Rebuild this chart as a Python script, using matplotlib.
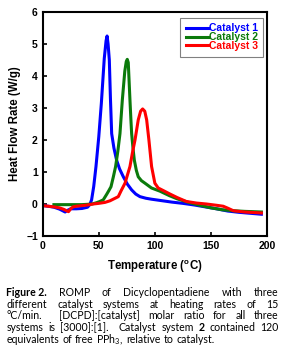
import matplotlib
matplotlib.use('Agg')
import matplotlib.pyplot as plt

plt.rcParams['font.family'] = 'Liberation Sans'
plt.rcParams['mathtext.fontset'] = 'custom'
plt.rcParams['mathtext.rm'] = 'Lato'
plt.rcParams['mathtext.bf'] = 'Liberation Sans:bold'

# Catalyst 1 (blue)
t1 = [0, 5, 10, 15, 20, 22, 25, 30, 35, 40, 42, 43.6, 45.5, 47.5, 50, 52.3, 54.9, 56.5,
      57.4, 58.3, 59.4, 60.4, 61.5, 63.5, 65.9, 68.5, 71.9, 75.5, 79.3, 83, 86.7, 92, 97,
      105, 115, 125, 135, 145, 155, 165, 175, 185, 195]
v1 = [-0.05, -0.07, -0.1, -0.16, -0.25, -0.2, -0.15, -0.15, -0.14, -0.1, -0.02, 0.13, 0.55,
      1.17, 2.1, 3.15, 4.55, 5.1, 5.25, 5.0, 4.5, 3.3, 2.2, 1.75, 1.37, 1.1, 0.85, 0.62, 0.44,
      0.31, 0.23, 0.18, 0.15, 0.11, 0.06, 0.02, -0.03, -0.09, -0.15, -0.22, -0.26, -0.29, -0.32]

# Catalyst 2 (green)
t2 = [10, 15, 20, 25, 30, 35, 40, 44, 48, 51, 54, 57, 59, 60.9, 63, 65, 67, 68.9, 71, 73.2,
      74.5, 75.4, 76.3, 77.8, 78.7, 79.3, 80.5, 81.7, 83.5, 85.2, 88, 91.2, 97, 104.6, 113,
      120, 130, 140, 150, 160, 170, 180, 195]
v2 = [-0.02, -0.02, -0.02, -0.02, -0.02, -0.02, -0.01, 0.0, 0.04, 0.08, 0.13, 0.3, 0.42, 0.54,
      0.85, 1.17, 1.65, 2.2, 3.25, 4.15, 4.45, 4.52, 4.42, 3.25, 2.6, 2.2, 1.75, 1.37, 1.05,
      0.85, 0.73, 0.65, 0.5, 0.4, 0.26, 0.16, 0.05, -0.04, -0.12, -0.18, -0.21, -0.23, -0.25]

# Catalyst 3 (red)
t3 = [0, 5, 10, 15, 19, 23, 25, 27, 30, 35, 40, 45, 50, 55.5, 60, 64, 67.4, 70, 73.4, 75.5,
      77.8, 80, 82.3, 85.2, 87.3, 89.1, 91, 92.7, 94.7, 97.1, 100, 103, 107.5, 113, 120, 128,
      137, 146, 155, 161, 165, 170, 180, 195]
v3 = [-0.05, -0.07, -0.09, -0.12, -0.17, -0.24, -0.15, -0.09, -0.07, -0.05, -0.03, 0.0, 0.02,
      0.05, 0.1, 0.17, 0.23, 0.42, 0.65, 0.9, 1.17, 1.6, 2.0, 2.63, 2.9, 2.97, 2.9, 2.63, 2.0,
      1.17, 0.65, 0.5, 0.42, 0.32, 0.2, 0.08, 0.03, 0.0, -0.04, -0.07, -0.13, -0.21, -0.25, -0.28]

labels = ['Catalyst 1', 'Catalyst 2', 'Catalyst 3']
colors = ['#0000ff', '#0b7a0b', '#ff0000']

caption = [
    [('Figure 2.', True), ('ROMP', False), ('of', False), ('Dicyclopentadiene', False),
     ('with', False), ('three', False)],
    [('different', False), ('catalyst', False), ('systems', False), ('at', False),
     ('heating', False), ('rates', False), ('of', False), ('15', False)],
    [('°C/min.', False), ('', False), ('[DCPD]:[catalyst]', False), ('molar', False),
     ('ratio', False), ('for', False), ('all', False), ('three', False)],
    [('systems', False), ('is', False), ('[3000]:[1].', False), ('', False), ('Catalyst', False),
     ('system', False), ('2', True), ('contained', False), ('120', False)],
    [('equivalents', False), ('of', False), ('free', False), ('PPh$_3$,', False),
     ('relative', False), ('to', False), ('catalyst.', False)],
]

W, H = 286, 354
fig = plt.figure(figsize=(W / 100, H / 100), dpi=100)
ax = fig.add_axes([42.7 / W, 1 - 236 / H, 224.3 / W, 224 / H])

for t, v, lab, c in zip([t1, t2, t3], [v1, v2, v3], labels, colors):
    ax.plot(t, v, color=c, lw=2.2, label=lab, solid_joinstyle='round')

ax.set_xlim(0, 200)
ax.set_ylim(-1, 6)
ax.set_xticks([0, 50, 100, 150, 200])
ax.set_yticks([-1, 0, 1, 2, 3, 4, 5, 6])
ax.tick_params(direction='in', length=3, width=1.2, labelsize=7.5, pad=3.5)
for lbl in ax.get_xticklabels() + ax.get_yticklabels():
    lbl.set_fontweight('bold')
for s in ax.spines.values():
    s.set_linewidth(1.5)

ax.set_xlabel(r'Temperature ($^{\mathbf{o}}$C)', fontsize=8.3, fontweight='bold', labelpad=5)
ax.set_ylabel('Heat Flow Rate (W/g)', fontsize=8.3, fontweight='bold', labelpad=4)

leg = ax.legend(loc='upper right', bbox_to_anchor=(0.9835, 0.9746), borderaxespad=0,
                fancybox=False, edgecolor='#808080', framealpha=1,
                prop={'weight': 'bold', 'size': 7.5}, labelcolor='linecolor',
                handlelength=2.2, handletextpad=0.0, labelspacing=-0.12, borderpad=0.55)
leg.get_frame().set_linewidth(0.8)

# justified caption
r = fig.canvas.get_renderer()
x0, x1 = 6.5, 278.5
y_lines = [292.3, 304, 315.7, 327.3, 339.3]
for i, (line, yc) in enumerate(zip(caption, y_lines)):
    objs = []
    for word, bold in line:
        tx = fig.text(0, 1 - yc / H, word, fontsize=7.6, family='Lato',
                      fontweight='bold' if bold else 'normal', va='center', ha='left')
        objs.append(tx)
    widths = [o.get_window_extent(renderer=r).width if o.get_text() else 0 for o in objs]
    if i < len(caption) - 1:
        gap = (x1 - x0 - sum(widths)) / (len(objs) - 1)
    else:
        gap = 2.9
    x = x0
    for o, w in zip(objs, widths):
        o.set_x(x / W)
        x += w + gap

fig.savefig('out.png', dpi=100)
